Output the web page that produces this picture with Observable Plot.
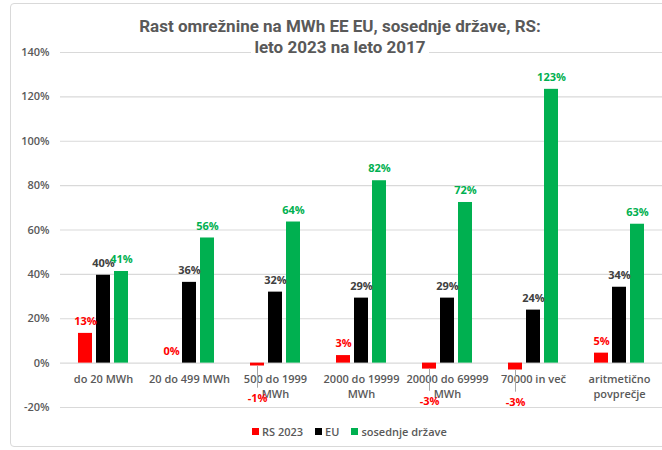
<!DOCTYPE html>
<html>
<head>
<meta charset="utf-8">
<script src="https://cdn.jsdelivr.net/npm/d3@7"></script>
<script src="https://cdn.jsdelivr.net/npm/@observablehq/plot@0.6"></script>
<style>
  html, body { margin: 0; padding: 0; background: #fff; }
  #wrap { position: relative; width: 662px; height: 450px; overflow: hidden; font-family: "Open Sans", sans-serif; }
  #border { position: absolute; left: 10px; top: 3px; width: 660px; height: 444px; border: 1px solid #d9d9d9; border-radius: 4px; box-sizing: border-box; }
  #chart { position: absolute; left: 0; top: 0; }
  #title { position: absolute; left: 0; width: 680px; top: 16px; text-align: center; font-family: "Liberation Sans Narrow", "Roboto", sans-serif; font-weight: bold; font-size: 17px; color: #595959; line-height: 21px; z-index: 2; }
  #title span { background: #fff; padding: 0 3px; }
  #legend { position: absolute; left: 252px; top: 424px; display: flex; justify-content: flex-start; gap: 12px; font-size: 11px; font-weight: 600; color: #595959; z-index: 2; }
  #legend .item { display: flex; align-items: center; gap: 3px; }
  #legend .sw { width: 7px; height: 7px; display: inline-block; }
</style>
</head>
<body>
<div id="wrap">
  <div id="border"></div>
  <div id="chart"></div>
  <div id="title"><span>Rast omrežnine na MWh EE EU, sosednje države, RS:</span><br><span>leto 2023 na leto 2017</span></div>
  <div id="legend"></div>
</div>
<script>
const categories = ["do 20 MWh", "20 do 499 MWh", "500 do 1999\nMWh", "2000 do 19999\nMWh", "20000 do 69999\nMWh", "70000 in več", "aritmetično\npovprečje"];
const series = ["RS 2023", "EU", "sosednje države"];
const rs2023 = [13.4, 0, -1.3, 3.4, -2.7, -3.1, 4.5];
const eu = [39.6, 36.4, 32.0, 29.3, 29.3, 23.9, 34.2];
const sosednje = [41.3, 56.4, 63.6, 82.2, 72.4, 123.4, 62.6];
const yTicks = [-20, 0, 20, 40, 60, 80, 100, 120, 140];
const barColors = ["#ff0000", "#000000", "#00b050"];
const labelColors = ["#ff0000", "#404040", "#00b050"];

const valuesBySeries = [rs2023, eu, sosednje];
const data = [];
categories.forEach((c, i) => {
  series.forEach((s, j) => data.push({category: c, series: s, value: valuesBySeries[j][i]}));
});

const labelMarks = [];
series.forEach((s, j) => {
  const pos = data.filter(d => d.series === s && d.value >= 0);
  const neg = data.filter(d => d.series === s && d.value < 0);
  labelMarks.push(Plot.text(pos, {
    fx: "category", x: "series", y: "value",
    text: d => Math.round(d.value) + "%", dy: -12,
    fill: labelColors[j], fontSize: 11, fontWeight: "bold"
  }));
  labelMarks.push(Plot.ruleX(neg, {
    fx: "category", x: "series", y1: "value", y2: d => d.value - 10,
    stroke: "#a6a6a6", strokeWidth: 1
  }));
  labelMarks.push(Plot.text(neg, {
    fx: "category", x: "series", y: d => d.value - 10,
    text: d => Math.round(d.value) + "%", dy: 10,
    fill: labelColors[j], fontSize: 11, fontWeight: "bold"
  }));
});

const chart = Plot.plot({
  width: 662,
  height: 450,
  marginTop: 52,
  marginBottom: 43,
  marginLeft: 59,
  marginRight: 0,
  style: {fontFamily: "Open Sans, sans-serif", background: "transparent", color: "#595959"},
  fx: {domain: categories, padding: 0, axis: null},
  x: {domain: series, paddingInner: 0.21, paddingOuter: 0.87, axis: null},
  y: {domain: [-20, 140], axis: null},
  color: {domain: series, range: barColors},
  marks: [
    Plot.gridY(yTicks, {stroke: "#d9d9d9", strokeOpacity: 1, strokeWidth: 1.2}),
    Plot.axisY(yTicks, {tickFormat: d => d + "%", tickSize: 0, tickPadding: 11, fontSize: 11, fill: "#595959", fontWeight: 600, label: null}),
    Plot.barY(data, {fx: "category", x: "series", y: "value", fill: "series"}),
    Plot.text(categories, {
      fx: d => d, y: d => 0, text: d => d, lineAnchor: "top", dy: 9,
      fontSize: 11, fontWeight: 600, fill: "#595959", lineHeight: 1.36
    }),
    ...labelMarks
  ]
});
document.getElementById("chart").appendChild(chart);

const legend = document.getElementById("legend");
series.forEach((s, j) => {
  const item = document.createElement("div");
  item.className = "item";
  const sw = document.createElement("span");
  sw.className = "sw";
  sw.style.background = barColors[j];
  const t = document.createElement("span");
  t.textContent = s;
  item.appendChild(sw);
  item.appendChild(t);
  legend.appendChild(item);
});
</script>
</body>
</html>
